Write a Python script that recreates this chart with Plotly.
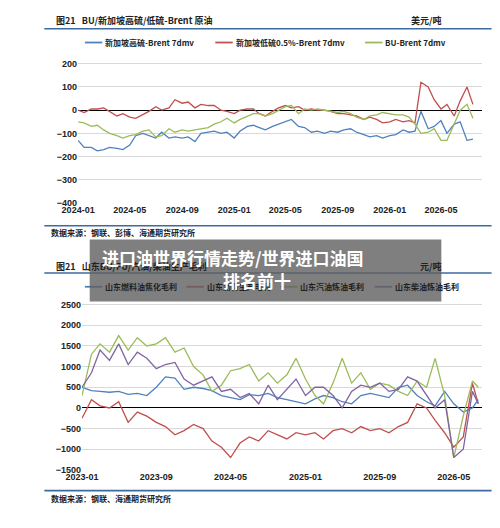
import pandas as pd
import plotly.graph_objects as go

# ---- top chart: spreads vs Brent (USD/t), semi-monthly samples ----
top_dates = pd.date_range('2024-01-01', periods=62, freq='SMS')
hsfo = [-130, -160, -160, -175, -170, -160, -165, -170, -150, -110, -100, -110,
        -120, -95, -120, -115, -120, -115, -135, -100, -95, -90, -100, -95,
        -120, -90, -70, -65, -75, -85, -70, -60, -50, -40, -70, -75,
        -95, -90, -100, -90, -95, -85, -80, -95, -105, -115, -110, -120,
        -110, -105, -85, -95, -90, -5, -80, -70, -45, -100, -60, -50, -130, -125]
lsfo = [0, -10, 5, 5, 10, -5, -25, -15, -30, -35, -20, -5,
        15, 0, 10, 45, 30, 35, 10, 25, 20, 20, 0, -5,
        -15, 0, 5, 5, -15, -25, -5, 10, 20, 10, 15, 0,
        5, 0, 0, -5, -15, -15, -20, -25, -40, -30, -40, -55,
        -50, -40, -50, -45, -55, 120, 100, 45, 5, 25, -25, 40, 100, 25]
bu = [-50, -55, -70, -65, -85, -100, -110, -120, -110, -105, -90, -85,
      -115, -110, -80, -95, -85, -90, -85, -80, -75, -60, -50, -35,
      -55, -40, -25, -15, -15, -25, -15, 0, 15, 20, -15, 5,
      0, 5, 0, -5, -10, -5, -15, -30, -40, -25, -20, -10,
      -15, -20, -20, -30, -60, -100, -95, -80, -130, -130, -60, 0, 25, -35]

# ---- bottom chart: Shandong margins (CNY/t), monthly samples ----
bot_dates = list(pd.date_range('2023-01-01', periods=43, freq='MS')) + [pd.Timestamp('2026-07-20')]
fuel = [500, 420, 400, 380, 400, 330, 350, 300, 500, 750, 720, 450,
        500, 470, 420, 300, 250, 200, 320, 300, 350, 250, 200, 150,
        100, 220, 300, 250, 150, 100, 300, 350, 300, 250, 500, 550,
        300, 150, 50, 400, 100, -100, 0, 200]
asph = [-250, 200, 50, 0, 150, -350, -100, -200, -350, -450, -650, -550,
        -400, -500, -800, -950, -1200, -850, -700, -800, -550, -650, -750, -600,
        -650, -600, -750, -550, -500, -600, -450, -550, -500, -600, -450, -350,
        100, 0, -300, -600, -950, -700, 600, 100]
gasoline = [300, 1300, 1550, 1350, 1750, 1400, 1700, 1500, 1550, 1700, 1350, 1450,
            1000, 800, 400, 550, 900, 950, 1050, 650, 850, 600, 800, 1200,
            700, 300, 100, 600, 1200, 600, 850, 450, 600, 550, 400, 300,
            650, 500, 1200, 300, -1200, -200, 650, 500]
diesel = [500, 850, 1400, 1150, 1550, 1050, 1350, 1200, 950, 1050, 1100, 700,
          550, 650, 750, 400, 450, 250, 350, 100, 550, 200, 450, 700,
          300, 500, 500, 300, 0, 400, 550, 500, 600, 400, 450, 750,
          650, 300, 0, 200, -1200, -1000, 400, 100]

BLUE, RED, GREEN, PURPLE = '#4f81bd', '#c0504d', '#9bbb59', '#8064a2'
W, H = 500, 528
px = lambda x: x / W
py = lambda y: 1 - y / H
CJK = 'Noto Sans CJK SC'

fig = go.Figure()
for y, c in [(hsfo, BLUE), (lsfo, RED), (bu, GREEN)]:
    fig.add_trace(go.Scatter(x=top_dates, y=y, mode='lines', line=dict(color=c, width=1.3),
                             xaxis='x', yaxis='y'))
for y, c in [(fuel, BLUE), (asph, RED), (gasoline, GREEN), (diesel, PURPLE)]:
    fig.add_trace(go.Scatter(x=bot_dates, y=y, mode='lines', line=dict(color=c, width=1.3),
                             xaxis='x2', yaxis='y2'))

tick_font = dict(family='Liberation Sans', size=9, color='#222', weight='bold')
ax = dict(showgrid=False, showline=False, ticks='', tickfont=tick_font, tickformat='%Y-%m')
ay = dict(showgrid=True, gridcolor='#d9d9d9', gridwidth=0.8, zeroline=True, zerolinecolor='black',
          zerolinewidth=1.3, tickfont=tick_font, ticks='')
fig.update_layout(
    width=W, height=H, autosize=False, margin=dict(l=0, r=0, t=0, b=0),
    paper_bgcolor='white', plot_bgcolor='white', showlegend=False,
    xaxis=dict(ax, domain=[px(55), px(473)], range=['2024-01-01', '2026-08-05'], anchor='y',
               tickvals=['2024-01-01', '2024-05-01', '2024-09-01', '2025-01-01', '2025-05-01',
                         '2025-09-01', '2026-01-01', '2026-05-01']),
    yaxis=dict(ay, domain=[py(195), py(50)], range=[-400, 215], anchor='x', tickvals=list(range(-400, 201, 100))),
    xaxis2=dict(ax, domain=[px(59), px(473)], range=['2023-01-01', '2026-08-01'], anchor='y2',
                tickvals=['2023-01-01', '2023-09-01', '2024-05-01', '2025-01-01', '2025-09-01', '2026-05-01']),
    yaxis2=dict(ay, domain=[py(466), py(296)], range=[-1500, 2550], anchor='x2', tickvals=list(range(-1500, 2501, 500))),
)

shapes, anns = [], []
def text(x, y, s, size=8, color='#222', xanchor='left', bold=False, font=CJK):
    anns.append(dict(x=px(x), y=py(y), xref='paper', yref='paper', text=f'<b>{s}</b>' if bold else s,
                     showarrow=False, xanchor=xanchor, yanchor='middle',
                     font=dict(family=font, size=size, color=color)))
def hline(y, x0=20, x1=483, color='#3d6ba0', width=1.6):
    shapes.append(dict(type='line', xref='paper', yref='paper', x0=px(x0), x1=px(x1),
                       y0=py(y), y1=py(y), line=dict(color=color, width=width)))
def legend_item(x, y, color, label):
    hline(y, x, x + 18, color, 1.8)
    text(x + 19, y, label, size=8, bold=True)

# top chart furniture
text(30, 10, '图21   BU/新加坡高硫/低硫-Brent 原油', size=9, bold=True)
text(433, 10, '美元/吨', size=9, xanchor='right', bold=True)
hline(18)
legend_item(62, 32, BLUE, '新加坡高硫-Brent 7dmv')
legend_item(197, 32, RED, '新加坡低硫0.5%-Brent 7dmv')
legend_item(352, 32, GREEN, 'BU-Brent 7dmv')
hline(218)
text(25, 225, '数据来源：钢联、彭博、海通期货研究所', size=8, bold=True)

# bottom chart furniture
text(30, 259, '图21   山东BU/FU/汽油/柴油生产毛利', size=9, bold=True)
text(433, 259, '元/吨', size=9, xanchor='right', bold=True)
hline(266)
legend_item(62, 280, BLUE, '山东燃料油焦化毛利')
legend_item(167, 280, RED, '山东沥青生产毛利')
legend_item(264, 280, GREEN, '山东汽油炼油毛利')
legend_item(362, 280, PURPLE, '山东柴油炼油毛利')
hline(487)
text(25, 495, '数据来源：钢联、海通期货研究所', size=8, bold=True)

# overlay banner
shapes.append(dict(type='rect', xref='paper', yref='paper', x0=px(67), x1=px(431), y0=py(295), y1=py(232),
                   fillcolor='rgba(95,95,95,0.8)', line=dict(width=0)))
text(78, 250, '进口油世界行情走势/世界进口油国', size=17, color='white', bold=True)
text(240, 274, '排名前十', size=17, color='white', xanchor='center', bold=True)

fig.update_layout(shapes=shapes, annotations=anns)
fig.write_html('out.html')
